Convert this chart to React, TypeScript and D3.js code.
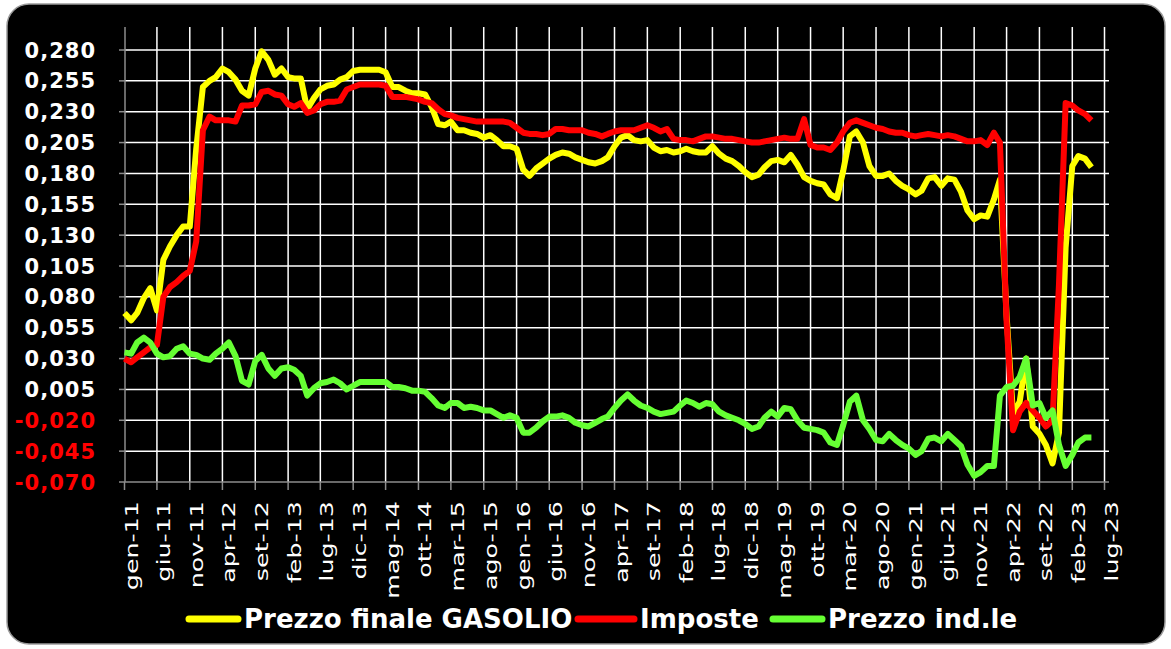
import React from "react";
import * as d3 from "d3";

// ---- DATA ----
const monthNames = ["gen", "feb", "mar", "apr", "mag", "giu", "lug", "ago", "set", "ott", "nov", "dic"];
const firstYear = 2011; // first value = gen-11, monthly

const xTickLabels = [
  "gen-11", "giu-11", "nov-11", "apr-12", "set-12", "feb-13", "lug-13", "dic-13", "mag-14", "ott-14",
  "mar-15", "ago-15", "gen-16", "giu-16", "nov-16", "apr-17", "set-17", "feb-18", "lug-18", "dic-18",
  "mag-19", "ott-19", "mar-20", "ago-20", "gen-21", "giu-21", "nov-21", "apr-22", "set-22", "feb-23", "lug-23",
];

const yTicks = [0.28, 0.255, 0.23, 0.205, 0.18, 0.155, 0.13, 0.105, 0.08, 0.055, 0.03, 0.005, -0.02, -0.045, -0.07];

const gasolio = [
  0.067, 0.061, 0.067, 0.079, 0.087, 0.069, 0.110, 0.121, 0.130, 0.137,
  0.137, 0.200, 0.250, 0.255, 0.258, 0.265, 0.262, 0.256, 0.247, 0.243,
  0.265, 0.279, 0.272, 0.260, 0.265, 0.258, 0.257, 0.257, 0.232, 0.241,
  0.248, 0.251, 0.252, 0.256, 0.258, 0.263, 0.264, 0.264, 0.264, 0.264,
  0.262, 0.250, 0.250, 0.247, 0.245, 0.245, 0.244, 0.234, 0.220, 0.219,
  0.222, 0.215, 0.215, 0.213, 0.212, 0.209, 0.211, 0.207, 0.202, 0.202,
  0.200, 0.183, 0.178, 0.184, 0.188, 0.192, 0.195, 0.197, 0.196, 0.193,
  0.191, 0.189, 0.188, 0.190, 0.193, 0.202, 0.209, 0.211, 0.207, 0.206,
  0.207, 0.201, 0.198, 0.199, 0.197, 0.198, 0.200, 0.198, 0.197, 0.197,
  0.202, 0.196, 0.192, 0.190, 0.186, 0.181, 0.177, 0.179, 0.185, 0.190,
  0.191, 0.189, 0.195, 0.187, 0.177, 0.174, 0.172, 0.171, 0.163, 0.160,
  0.182, 0.210, 0.214, 0.205, 0.186, 0.178, 0.178, 0.180, 0.174, 0.170,
  0.167, 0.163, 0.166, 0.176, 0.177, 0.170, 0.176, 0.175, 0.165, 0.150,
  0.143, 0.146, 0.145, 0.159, 0.175, 0.065, -0.015, -0.005, 0.030, -0.025,
  -0.031, -0.040, -0.055, -0.030, 0.120, 0.186, 0.194, 0.192, 0.185,
];

const imposte = [
  0.030, 0.027, 0.031, 0.035, 0.039, 0.041, 0.080, 0.088, 0.092, 0.097,
  0.101, 0.125, 0.215, 0.226, 0.223, 0.223, 0.223, 0.222, 0.235, 0.235,
  0.236, 0.246, 0.247, 0.244, 0.243, 0.236, 0.234, 0.237, 0.229, 0.231,
  0.236, 0.238, 0.238, 0.239, 0.248, 0.250, 0.252, 0.252, 0.252, 0.252,
  0.251, 0.242, 0.242, 0.242, 0.241, 0.240, 0.238, 0.237, 0.232, 0.228,
  0.227, 0.225, 0.224, 0.223, 0.222, 0.222, 0.222, 0.222, 0.222, 0.221,
  0.217, 0.213, 0.212, 0.212, 0.211, 0.212, 0.216, 0.216, 0.215, 0.215,
  0.215, 0.213, 0.212, 0.210, 0.212, 0.214, 0.215, 0.215, 0.215, 0.217,
  0.219, 0.217, 0.214, 0.216, 0.208, 0.207, 0.207, 0.206, 0.208, 0.210,
  0.210, 0.209, 0.208, 0.208, 0.207, 0.206, 0.205, 0.205, 0.206, 0.207,
  0.208, 0.209, 0.208, 0.208, 0.224, 0.203, 0.201, 0.201, 0.199, 0.205,
  0.214, 0.221, 0.223, 0.221, 0.219, 0.217, 0.216, 0.214, 0.213, 0.213,
  0.211, 0.210, 0.211, 0.212, 0.211, 0.210, 0.211, 0.210, 0.208, 0.206,
  0.206, 0.207, 0.203, 0.213, 0.205, 0.060, -0.028, -0.013, -0.006, -0.012,
  -0.018, -0.025, -0.020, 0.090, 0.237, 0.235, 0.231, 0.228, 0.223,
];

const industriale = [
  0.035, 0.034, 0.043, 0.047, 0.043, 0.034, 0.031, 0.032, 0.038, 0.040,
  0.034, 0.033, 0.030, 0.029, 0.034, 0.038, 0.043, 0.032, 0.012, 0.009,
  0.028, 0.033, 0.022, 0.016, 0.022, 0.023, 0.021, 0.016, 0.000, 0.006,
  0.010, 0.011, 0.013, 0.010, 0.005, 0.008, 0.011, 0.011, 0.011, 0.011,
  0.011, 0.007, 0.007, 0.006, 0.004, 0.004, 0.003, -0.002, -0.008, -0.010,
  -0.006, -0.006, -0.010, -0.009, -0.010, -0.012, -0.012, -0.015, -0.018, -0.016,
  -0.018, -0.030, -0.030, -0.026, -0.021, -0.017, -0.017, -0.016, -0.018, -0.022,
  -0.024, -0.025, -0.022, -0.019, -0.017, -0.010, -0.004, 0.001, -0.004, -0.008,
  -0.010, -0.013, -0.015, -0.014, -0.013, -0.008, -0.004, -0.006, -0.009, -0.006,
  -0.007, -0.013, -0.016, -0.018, -0.020, -0.023, -0.027, -0.025, -0.018, -0.013,
  -0.017, -0.010, -0.011, -0.020, -0.026, -0.027, -0.028, -0.030, -0.038, -0.040,
  -0.024, -0.005, 0.000, -0.020, -0.027, -0.036, -0.037, -0.031, -0.036, -0.040,
  -0.043, -0.048, -0.045, -0.035, -0.034, -0.037, -0.031, -0.036, -0.041, -0.056,
  -0.065, -0.062, -0.057, -0.057, 0.000, 0.007, 0.008, 0.015, 0.030, -0.008,
  -0.006, -0.018, -0.012, -0.040, -0.057, -0.048, -0.038, -0.034, -0.034,
];

const seriesNames = ["Prezzo finale GASOLIO", "Imposte", "Prezzo ind.le"];

// ---- LAYOUT / STYLE ----
const W = 1171;
const H = 649;
const plotLeft = 125;
const plotRight = 1109;
const plotTop = 27;
const plotBottom = 482;
const colors = ["#ffff00", "#ff0000", "#66ff33"];
const font = "'DejaVu Sans', Verdana, sans-serif";

function labelToDate(label: string): Date {
  const [mm, yy] = label.split("-");
  return new Date(2000 + Number(yy), monthNames.indexOf(mm), 1);
}

export default function App() {
  const x = d3
    .scaleTime()
    .domain([labelToDate(xTickLabels[0]), labelToDate(xTickLabels[xTickLabels.length - 1])])
    .range([124.5, 1104.5]);
  const y = d3.scaleLinear().domain([-0.07, 0.28]).range([plotBottom, 50]);

  const dateOf = (i: number) => new Date(firstYear, i, 1);
  const series = [gasolio, imposte, industriale];
  const line = d3
    .line<number>()
    .x((_, i) => x(dateOf(i)))
    .y((d) => y(d));

  const fmt = (v: number) => d3.format(".3f")(v).replace(".", ",").replace("−", "-");

  const legendItems = [
    { x1: 189, x2: 238, tx: 244 },
    { x1: 578, x2: 634, tx: 640 },
    { x1: 773, x2: 822, tx: 828 },
  ];

  return (
    <svg
      width={W}
      height={H}
      style={{ position: "absolute", left: 0, top: 0, display: "block", background: "#fff" }}
    >
      <rect x={7} y={4} width={1158} height={640} rx={22} ry={22} fill="#000" stroke="#9a9a9a" strokeWidth={1.5} />

      {/* gridlines */}
      {yTicks.slice(0, -1).map((t) => (
        <line key={"h" + t} x1={plotLeft} x2={plotRight} y1={y(t)} y2={y(t)} stroke="#fff" strokeWidth={1.5} />
      ))}
      {xTickLabels.slice(1).map((l) => (
        <line key={"v" + l} x1={x(labelToDate(l))} x2={x(labelToDate(l))} y1={plotTop} y2={plotBottom} stroke="#fff" strokeWidth={1.5} />
      ))}

      {/* axes */}
      <line x1={plotLeft} x2={plotLeft} y1={plotTop} y2={plotBottom} stroke="#8c8c8c" strokeWidth={1.5} />
      <line x1={plotLeft} x2={plotRight} y1={plotBottom} y2={plotBottom} stroke="#8c8c8c" strokeWidth={1.5} />
      {yTicks.map((t) => (
        <line key={"yt" + t} x1={plotLeft - 6} x2={plotLeft} y1={y(t)} y2={y(t)} stroke="#8c8c8c" strokeWidth={1.5} />
      ))}
      {xTickLabels.map((l) => (
        <line key={"xt" + l} x1={x(labelToDate(l))} x2={x(labelToDate(l))} y1={plotBottom} y2={plotBottom + 8} stroke="#8c8c8c" strokeWidth={1.5} />
      ))}

      {/* y labels */}
      {yTicks.map((t) => (
        <text
          key={"yl" + t}
          x={96}
          y={y(t)}
          dy="0.36em"
          textAnchor="end"
          fontFamily={font}
          fontWeight="bold"
          fontSize={21}
          letterSpacing={1}
          fill={t < 0 ? "#ff0000" : "#ffffff"}
        >
          {fmt(t)}
        </text>
      ))}

      {/* x labels */}
      {xTickLabels.map((l) => (
        <text
          key={"xl" + l}
          transform={`translate(${x(labelToDate(l)) + 13},501) rotate(-90) scale(1.45,1)`}
          textAnchor="end"
          fontFamily={font}
          fontSize={17.5}
          fill="#fff"
        >
          {l}
        </text>
      ))}

      {/* series */}
      {series.map((s, k) => (
        <path
          key={"s" + k}
          d={line(s) || ""}
          fill="none"
          stroke={colors[k]}
          strokeWidth={6}
          strokeLinejoin="round"
          strokeLinecap="butt"
        />
      ))}

      {/* legend */}
      {seriesNames.map((n, k) => (
        <g key={"lg" + k}>
          <line x1={legendItems[k].x1} x2={legendItems[k].x2} y1={619} y2={619} stroke={colors[k]} strokeWidth={7} strokeLinecap="round" />
          <text x={legendItems[k].tx} y={619} dy="0.36em" fontFamily={font} fontWeight="bold" fontSize={26} fill="#fff">
            {n}
          </text>
        </g>
      ))}
    </svg>
  );
}
